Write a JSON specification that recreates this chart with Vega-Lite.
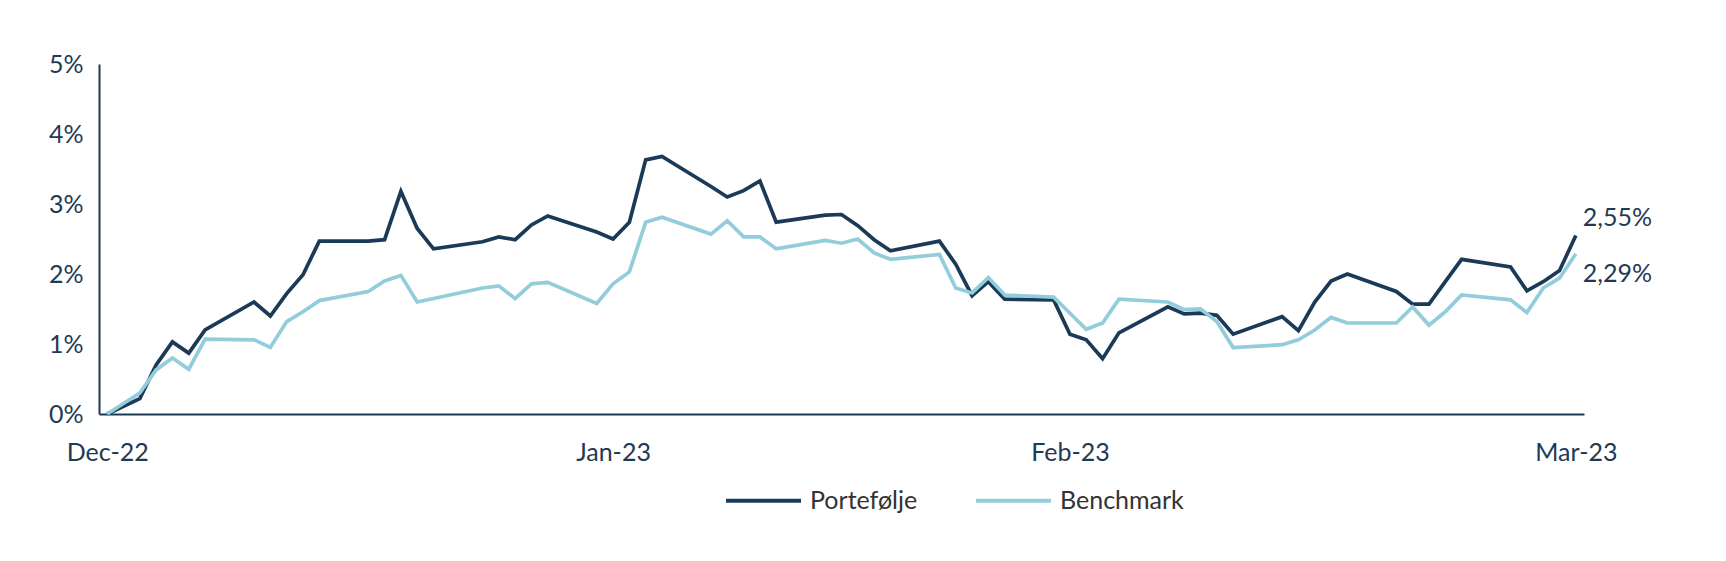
{
  "$schema": "https://vega.github.io/schema/vega-lite/v6.json",
  "description": "Portefølje vs Benchmark, akkumulert avkastning Dec-22 til Mar-23",
  "width": 1485,
  "height": 350,
  "autosize": "none",
  "padding": {"left": 99, "top": 64, "right": 142, "bottom": 147},
  "background": "white",
  "config": {
    "locale": {"number": {"decimal": ",", "thousands": ".", "grouping": [3], "currency": ["", " kr"]}},
    "view": {"stroke": null},
    "font": "Lato",
    "axis": {
      "title": null,
      "ticks": false,
      "grid": false,
      "labelFontSize": 25,
      "labelColor": "#1f3a55",
      "domainColor": "#1b3a57",
      "domainWidth": 2
    }
  },
  "data": {
    "format": {"parse": {"date": "utc:'%Y-%m-%d'"}},
    "values": [
      {"date": "2022-12-31", "Portefølje": 0.0, "Benchmark": 0.0},
      {"date": "2023-01-02", "Portefølje": 0.0022, "Benchmark": 0.0030},
      {"date": "2023-01-03", "Portefølje": 0.0070, "Benchmark": 0.0063},
      {"date": "2023-01-04", "Portefølje": 0.0103, "Benchmark": 0.0080},
      {"date": "2023-01-05", "Portefølje": 0.0087, "Benchmark": 0.0064},
      {"date": "2023-01-06", "Portefølje": 0.0120, "Benchmark": 0.0107},
      {"date": "2023-01-09", "Portefølje": 0.0160, "Benchmark": 0.0106},
      {"date": "2023-01-10", "Portefølje": 0.0140, "Benchmark": 0.0095},
      {"date": "2023-01-11", "Portefølje": 0.0172, "Benchmark": 0.0132},
      {"date": "2023-01-12", "Portefølje": 0.0199, "Benchmark": 0.0146},
      {"date": "2023-01-13", "Portefølje": 0.0247, "Benchmark": 0.0162},
      {"date": "2023-01-16", "Portefølje": 0.0247, "Benchmark": 0.0175},
      {"date": "2023-01-17", "Portefølje": 0.0249, "Benchmark": 0.0190},
      {"date": "2023-01-18", "Portefølje": 0.0318, "Benchmark": 0.0198},
      {"date": "2023-01-19", "Portefølje": 0.0265, "Benchmark": 0.0160},
      {"date": "2023-01-20", "Portefølje": 0.0236, "Benchmark": 0.0165},
      {"date": "2023-01-23", "Portefølje": 0.0246, "Benchmark": 0.0180},
      {"date": "2023-01-24", "Portefølje": 0.0253, "Benchmark": 0.0183},
      {"date": "2023-01-25", "Portefølje": 0.0249, "Benchmark": 0.0165},
      {"date": "2023-01-26", "Portefølje": 0.0270, "Benchmark": 0.0186},
      {"date": "2023-01-27", "Portefølje": 0.0283, "Benchmark": 0.0188},
      {"date": "2023-01-30", "Portefølje": 0.0260, "Benchmark": 0.0158},
      {"date": "2023-01-31", "Portefølje": 0.0250, "Benchmark": 0.0186},
      {"date": "2023-02-01", "Portefølje": 0.0274, "Benchmark": 0.0203},
      {"date": "2023-02-02", "Portefølje": 0.0363, "Benchmark": 0.0274},
      {"date": "2023-02-03", "Portefølje": 0.0368, "Benchmark": 0.0281},
      {"date": "2023-02-06", "Portefølje": 0.0325, "Benchmark": 0.0257},
      {"date": "2023-02-07", "Portefølje": 0.0310, "Benchmark": 0.0276},
      {"date": "2023-02-08", "Portefølje": 0.0319, "Benchmark": 0.0253},
      {"date": "2023-02-09", "Portefølje": 0.0333, "Benchmark": 0.0253},
      {"date": "2023-02-10", "Portefølje": 0.0274, "Benchmark": 0.0236},
      {"date": "2023-02-13", "Portefølje": 0.0284, "Benchmark": 0.0248},
      {"date": "2023-02-14", "Portefølje": 0.0285, "Benchmark": 0.0244},
      {"date": "2023-02-15", "Portefølje": 0.0269, "Benchmark": 0.0250},
      {"date": "2023-02-16", "Portefølje": 0.0249, "Benchmark": 0.0230},
      {"date": "2023-02-17", "Portefølje": 0.0233, "Benchmark": 0.0221},
      {"date": "2023-02-20", "Portefølje": 0.0247, "Benchmark": 0.0228},
      {"date": "2023-02-21", "Portefølje": 0.0214, "Benchmark": 0.0180},
      {"date": "2023-02-22", "Portefølje": 0.0169, "Benchmark": 0.0173},
      {"date": "2023-02-23", "Portefølje": 0.0189, "Benchmark": 0.0195},
      {"date": "2023-02-24", "Portefølje": 0.0164, "Benchmark": 0.0170},
      {"date": "2023-02-27", "Portefølje": 0.0163, "Benchmark": 0.0167},
      {"date": "2023-02-28", "Portefølje": 0.0114, "Benchmark": 0.0144},
      {"date": "2023-03-01", "Portefølje": 0.0106, "Benchmark": 0.0121},
      {"date": "2023-03-02", "Portefølje": 0.0079, "Benchmark": 0.0130},
      {"date": "2023-03-03", "Portefølje": 0.0116, "Benchmark": 0.0164},
      {"date": "2023-03-06", "Portefølje": 0.0153, "Benchmark": 0.0160},
      {"date": "2023-03-07", "Portefølje": 0.0143, "Benchmark": 0.0149},
      {"date": "2023-03-08", "Portefølje": 0.0144, "Benchmark": 0.0150},
      {"date": "2023-03-09", "Portefølje": 0.0141, "Benchmark": 0.0132},
      {"date": "2023-03-10", "Portefølje": 0.0114, "Benchmark": 0.0095},
      {"date": "2023-03-13", "Portefølje": 0.0139, "Benchmark": 0.0099},
      {"date": "2023-03-14", "Portefølje": 0.0119, "Benchmark": 0.0106},
      {"date": "2023-03-15", "Portefølje": 0.0160, "Benchmark": 0.0120},
      {"date": "2023-03-16", "Portefølje": 0.0190, "Benchmark": 0.0138},
      {"date": "2023-03-17", "Portefølje": 0.0200, "Benchmark": 0.0130},
      {"date": "2023-03-20", "Portefølje": 0.0175, "Benchmark": 0.0130},
      {"date": "2023-03-21", "Portefølje": 0.0157, "Benchmark": 0.0153},
      {"date": "2023-03-22", "Portefølje": 0.0157, "Benchmark": 0.0127},
      {"date": "2023-03-23", "Portefølje": 0.0189, "Benchmark": 0.0146},
      {"date": "2023-03-24", "Portefølje": 0.0221, "Benchmark": 0.0170},
      {"date": "2023-03-27", "Portefølje": 0.0210, "Benchmark": 0.0163},
      {"date": "2023-03-28", "Portefølje": 0.0176, "Benchmark": 0.0145},
      {"date": "2023-03-29", "Portefølje": 0.0189, "Benchmark": 0.0180},
      {"date": "2023-03-30", "Portefølje": 0.0205, "Benchmark": 0.0194},
      {"date": "2023-03-31", "Portefølje": 0.0255, "Benchmark": 0.0229}
    ]
  },
  "transform": [
    {"fold": ["Portefølje", "Benchmark"], "as": ["series", "value"]}
  ],
  "encoding": {
    "x": {
      "field": "date",
      "type": "temporal",
      "scale": {
        "type": "utc",
        "domain": [
          {"year": 2022, "month": 12, "date": 30, "hours": 12, "utc": true},
          {"year": 2023, "month": 3, "date": 31, "hours": 12, "utc": true}
        ]
      },
      "axis": {
        "values": [
          {"year": 2022, "month": 12, "date": 31, "utc": true},
          {"year": 2023, "month": 1, "date": 31, "utc": true},
          {"year": 2023, "month": 2, "date": 28, "utc": true},
          {"year": 2023, "month": 3, "date": 31, "utc": true}
        ],
        "labelExpr": "utcFormat(datum.value, '%b-%y')",
        "labelPadding": 26,
        "labelFlush": false,
        "labelOverlap": false,
        "labelBound": false
      }
    },
    "y": {
      "field": "value",
      "type": "quantitative",
      "scale": {"domain": [0, 0.05]},
      "axis": {
        "values": [0, 0.01, 0.02, 0.03, 0.04, 0.05],
        "format": ".0%",
        "labelPadding": 16
      }
    }
  },
  "layer": [
    {
      "mark": {"type": "line", "strokeWidth": 3.7},
      "encoding": {
        "color": {
          "field": "series",
          "type": "nominal",
          "scale": {"domain": ["Portefølje", "Benchmark"], "range": ["#1b3a57", "#93cddb"]},
          "legend": {
            "title": null,
            "orient": "none",
            "direction": "horizontal",
            "legendX": 625,
            "legendY": 397,
            "symbolType": "stroke",
            "symbolSize": 5625,
            "symbolStrokeWidth": 4,
            "labelFont": "Lato",
            "labelFontSize": 25,
            "labelColor": "#333333",
            "labelOffset": 7,
            "columnPadding": 50
          }
        }
      }
    },
    {
      "transform": [{"filter": "datum.series == 'Portefølje' && time(datum.date) == utc(2023, 2, 31)"}],
      "mark": {"type": "text", "align": "left", "baseline": "middle", "dx": 7, "dy": -18, "fontSize": 25, "color": "#1f3a55"},
      "encoding": {"text": {"field": "value", "type": "quantitative", "format": ".2%"}}
    },
    {
      "transform": [{"filter": "datum.series == 'Benchmark' && time(datum.date) == utc(2023, 2, 31)"}],
      "mark": {"type": "text", "align": "left", "baseline": "middle", "dx": 7, "dy": 20, "fontSize": 25, "color": "#1f3a55"},
      "encoding": {"text": {"field": "value", "type": "quantitative", "format": ".2%"}}
    }
  ]
}
